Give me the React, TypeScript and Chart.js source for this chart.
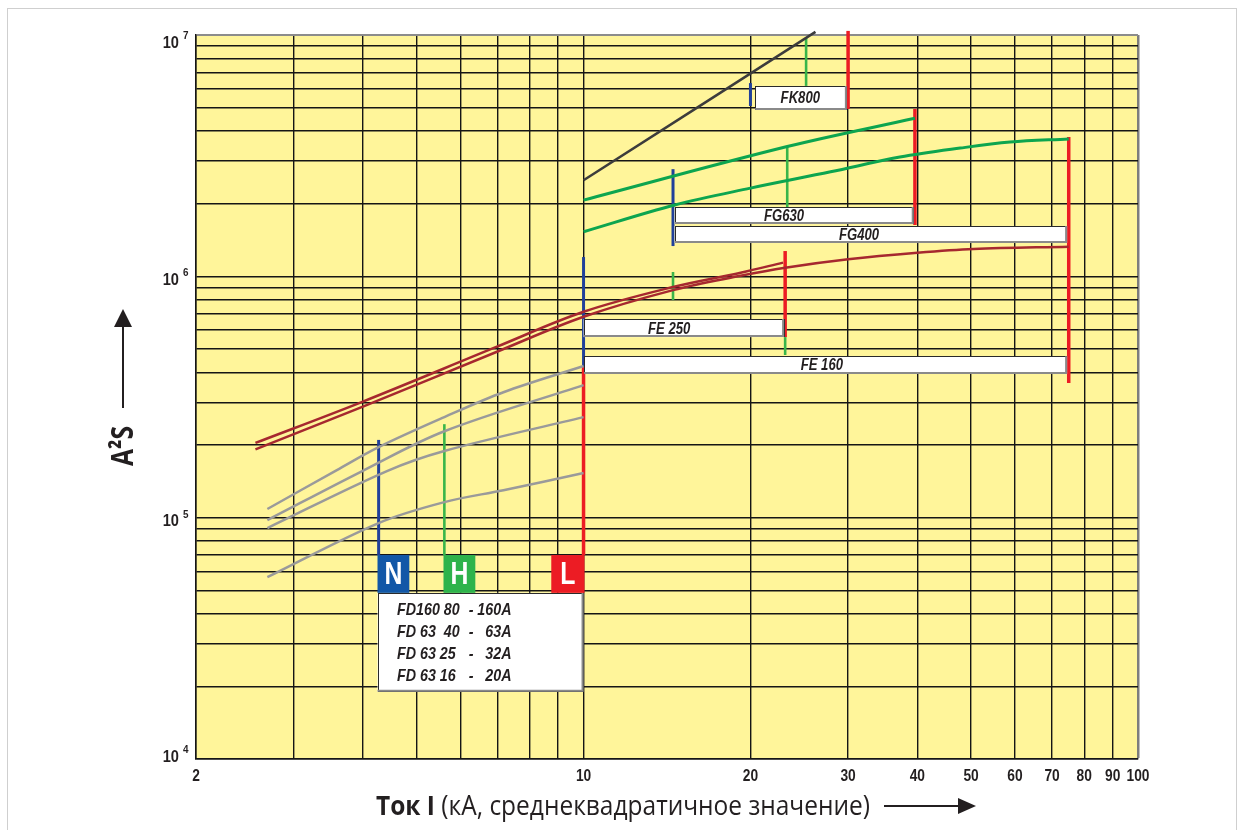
import React, { useEffect, useRef } from "react";
import { Chart, registerables } from "chart.js";

Chart.register(...registerables);

// ---------------- axes ----------------
const X_GRID = [2, 3, 4, 5, 6, 7, 8, 9, 10, 20, 30, 40, 50, 60, 70, 80, 90, 100];
const X_LABELS = [2, 10, 20, 30, 40, 50, 60, 70, 80, 90, 100];
const Y_GRID = [
  1e4, 2e4, 3e4, 4e4, 5e4, 6e4, 7e4, 8e4, 9e4,
  1e5, 2e5, 3e5, 4e5, 5e5, 6e5, 7e5, 8e5, 9e5,
  1e6, 2e6, 3e6, 4e6, 5e6, 6e6, 7e6, 8e6, 9e6,
  1e7,
];
const Y_LABEL_EXP = [4, 5, 6, 7];

const X_TITLE_BOLD = "Ток I";
const X_TITLE_REST = " (кА, среднеквадратичное значение)";
const Y_TITLE = "A²S";

// ---------------- curves [kA, A²s] ----------------
const FK800 = [[10, 2.5e6], [26.2, 1.03e7]];
const FG630 = [[10, 2.07e6], [23.3, 3.45e6], [39.6, 4.52e6]];
const FG400 = [[10, 1.53e6], [14.6, 1.975e6], [20, 2.32e6], [27.9, 2.71e6], [37.2, 3.12e6], [47.8, 3.4e6], [58.8, 3.6e6], [75, 3.71e6]];
const FE250 = [[2.56, 2.04e5], [3.99, 3.02e5], [6.98, 5.11e5], [10, 7.13e5], [14.5, 9.03e5], [19.2, 1.035e6], [22.9, 1.14e6]];
const FE160 = [[2.56, 1.92e5], [3.99, 2.88e5], [6.98, 4.87e5], [10, 6.8e5], [14.5, 8.77e5], [19.2, 1.005e6], [23.1, 1.085e6], [30, 1.176e6], [40, 1.252e6], [50.5, 1.298e6], [75, 1.327e6]];
const FD160 = [[2.69, 1.086e5], [3.59, 1.575e5], [4.27, 1.96e5], [5.61, 2.61e5], [7.17, 3.31e5], [10, 4.25e5]];
const FD63_63 = [[2.69, 9.77e4], [3.99, 1.56e5], [5.61, 2.28e5], [10, 3.54e5]];
const FD63_32 = [[2.69, 9.06e4], [4.42, 1.56e5], [5.61, 1.89e5], [10, 2.61e5]];
const FD63_20 = [[2.69, 5.67e4], [4.27, 9.5e4], [5.61, 1.16e5], [7.17, 1.3e5], [10, 1.53e5]];

// ---------------- vertical markers [kA, low, high] ----------------
const BLUE_MARKS = [[20, 5.08e6, 6.32e6], [14.5, 1.335e6, 2.78e6], [10, 4.21e5, 1.202e6], [4.27, 7.0e4, 2.1e5]];
const GREEN_MARKS = [[25.2, 6.15e6, 9.75e6], [23.3, 1.937e6, 3.45e6], [14.5, 7.97e5, 1.042e6], [23.1, 4.72e5, 5.6e5], [5.61, 7.0e4, 2.44e5]];
const RED_MARKS = [[30, 4.94e6, 1.04e7], [39.6, 1.632e6, 4.94e6], [75, 3.61e5, 3.78e6], [23.1, 5.6e5, 1.273e6], [10, 7.0e4, 4.21e5]];

// ---------------- range boxes ----------------
const BOX_LABELS = ["FK800", "FG630", "FG400", "FE 250", "FE 160"];
const BOX_X = [[20.4, 29.85], [14.6, 39.4], [14.6, 74.5], [10, 23.0], [10.02, 74.5]];
const BOX_Y = [[6.15e6, 4.89e6], [1.937e6, 1.647e6], [1.617e6, 1.374e6], [6.65e5, 5.6e5], [4.67e5, 3.94e5]];
const BOX_LABEL_X = [24.6, 23.0, 31.4, 14.27, 26.9];

const TAGS = ["N", "H", "L"];
const TAG_X = [[4.25, 4.85], [5.59, 6.38], [8.746, 10.04]];
const TAG_Y = [7.0e4, 4.88e4];
const LEGEND_X = [4.25, 10.0];
const LEGEND_Y = [4.88e4, 1.9e4];
const LEGEND_ROWS = [
  ["FD160 80", "-", "160A"],
  ["FD 63  40", "-", "63A"],
  ["FD 63 25", "-", "32A"],
  ["FD 63 16", "-", "20A"],
];

// ---------------- styles ----------------
const YELLOW = "#FFF59A";
const C_RED = "#EC1C24";
const C_BLUE = "#21409A";
const C_GREEN = "#39B54A";
const C_CURVE_GREEN = "#0DA54F";
const C_BROWN = "#A6282F";
const C_GREY = "#9A9A9A";
const C_DARK = "#3C3C3C";
const TAG_COLORS = ["#1257A7", "#2EB34B", "#EC1C24"];
const TXT = "#231F20";
const NARROW = '"Liberation Sans", Arial, sans-serif';

const pts = (a: number[][]) => a.map(([x, y]) => ({ x, y }));

function narrowText(ctx: CanvasRenderingContext2D, s: string, x: number, y: number, align: CanvasTextAlign, sx: number) {
  ctx.save();
  ctx.translate(x, y);
  ctx.scale(sx, 1);
  ctx.textAlign = align;
  ctx.fillText(s, 0, 0);
  ctx.restore();
}

function panel(ctx: CanvasRenderingContext2D, l: number, t: number, r: number, b: number) {
  ctx.save();
  ctx.fillStyle = "#ffffff";
  ctx.fillRect(l, t, r - l, b - t);
  ctx.strokeStyle = "#2a2a2a";
  ctx.lineWidth = 1;
  ctx.strokeRect(Math.round(l) + 0.5, Math.round(t) + 0.5, Math.round(r - l) - 1, Math.round(b - t) - 1);
  ctx.strokeStyle = "#8a8a8a";
  ctx.lineWidth = 2;
  ctx.beginPath();
  ctx.moveTo(l, b - 1);
  ctx.lineTo(r - 1, b - 1);
  ctx.lineTo(r - 1, t);
  ctx.stroke();
  ctx.restore();
}

const drawPlugin = {
  id: "drawPlugin",
  beforeDraw(chart: any) {
    const { ctx, chartArea: a } = chart;
    ctx.save();
    ctx.fillStyle = YELLOW;
    ctx.fillRect(a.left, a.top, a.right - a.left, a.bottom - a.top);
    ctx.restore();
  },
  afterDatasetsDraw(chart: any) {
    const ctx: CanvasRenderingContext2D = chart.ctx;
    const X = (v: number) => chart.scales.x.getPixelForValue(v);
    const Y = (v: number) => chart.scales.y.getPixelForValue(v);

    // range boxes
    BOX_LABELS.forEach((lab, i) => {
      const l = X(BOX_X[i][0]), r = X(BOX_X[i][1]);
      const t = Y(BOX_Y[i][0]), b = Y(BOX_Y[i][1]);
      panel(ctx, l, t, r, b);
      ctx.save();
      ctx.fillStyle = TXT;
      ctx.font = `italic bold 16px ${NARROW}`;
      ctx.textBaseline = "middle";
      narrowText(ctx, lab, X(BOX_LABEL_X[i]), (t + b) / 2 + 1, "center", 0.82);
      ctx.restore();
    });

    // FD legend panel
    const ll = X(LEGEND_X[0]), lr = X(LEGEND_X[1]);
    const lt = Y(LEGEND_Y[0]), lb = Y(LEGEND_Y[1]);
    panel(ctx, ll, lt, lr, lb);
    ctx.save();
    ctx.fillStyle = TXT;
    ctx.font = `italic bold 17px ${NARROW}`;
    ctx.textBaseline = "middle";
    const rowOff = [17.5, 39.5, 61.3, 83];
    LEGEND_ROWS.forEach((row, i) => {
      const y = lt + rowOff[i];
      narrowText(ctx, row[0], ll + 19.5, y, "left", 0.84);
      narrowText(ctx, row[1], ll + 93.5, y, "center", 0.84);
      narrowText(ctx, row[2], ll + 134, y, "right", 0.84);
    });
    ctx.restore();

    // N / H / L tags
    TAGS.forEach((tag, i) => {
      const l = X(TAG_X[i][0]), r = X(TAG_X[i][1]);
      const t = Y(TAG_Y[0]), b = Y(TAG_Y[1]);
      ctx.save();
      ctx.fillStyle = TAG_COLORS[i];
      ctx.fillRect(l, t, r - l, b - t);
      ctx.fillStyle = "#ffffff";
      ctx.font = `bold 31px ${NARROW}`;
      ctx.textBaseline = "middle";
      narrowText(ctx, tag, (l + r) / 2, (t + b) / 2 + 1.5, "center", 0.8);
      ctx.restore();
    });
  },
  afterDraw(chart: any) {
    const ctx: CanvasRenderingContext2D = chart.ctx;
    const xs = chart.scales.x, ys = chart.scales.y;
    ctx.save();
    ctx.fillStyle = TXT;
    ctx.textBaseline = "middle";
    // x tick labels
    ctx.font = `bold 16px ${NARROW}`;
    X_LABELS.forEach((v) => {
      narrowText(ctx, String(v), xs.getPixelForValue(v), 777, "center", 0.86);
    });
    // y tick labels 10^n
    Y_LABEL_EXP.forEach((e) => {
      const py = ys.getPixelForValue(Math.pow(10, e));
      const cy = Math.min(757, Math.max(43, py + 4));
      ctx.font = `bold 17px ${NARROW}`;
      narrowText(ctx, "10", 179, cy, "right", 0.86);
      ctx.font = `bold 11px ${NARROW}`;
      narrowText(ctx, String(e), 183, cy - 7, "left", 0.9);
    });

    // x title
    const fs = 27;
    ctx.font = `bold ${fs}px "Open Sans", sans-serif`;
    const w1 = ctx.measureText(X_TITLE_BOLD).width;
    ctx.font = `${fs}px "Open Sans", sans-serif`;
    const w2 = ctx.measureText(X_TITLE_REST).width;
    const sx = 494 / (w1 + w2);
    ctx.save();
    ctx.translate(376, 815);
    ctx.scale(sx, 1);
    ctx.textBaseline = "alphabetic";
    ctx.textAlign = "left";
    ctx.font = `bold ${fs}px "Open Sans", sans-serif`;
    ctx.fillText(X_TITLE_BOLD, 0, 0);
    ctx.font = `${fs}px "Open Sans", sans-serif`;
    ctx.fillText(X_TITLE_REST, w1, 0);
    ctx.restore();
    // x arrow
    ctx.strokeStyle = TXT;
    ctx.lineWidth = 2;
    ctx.beginPath();
    ctx.moveTo(884, 806);
    ctx.lineTo(962, 806);
    ctx.stroke();
    ctx.beginPath();
    ctx.moveTo(958, 798);
    ctx.lineTo(976, 806);
    ctx.lineTo(958, 814);
    ctx.closePath();
    ctx.fill();

    // y title
    ctx.save();
    ctx.translate(123, 446);
    ctx.rotate(-Math.PI / 2);
    ctx.font = `bold 30px "Open Sans", sans-serif`;
    const wy = ctx.measureText(Y_TITLE).width;
    ctx.scale(40 / wy, 1);
    ctx.textAlign = "center";
    ctx.textBaseline = "middle";
    ctx.fillText(Y_TITLE, 0, 1);
    ctx.restore();
    // y arrow
    ctx.beginPath();
    ctx.moveTo(123, 408);
    ctx.lineTo(123, 322);
    ctx.stroke();
    ctx.beginPath();
    ctx.moveTo(114, 327);
    ctx.lineTo(123, 309);
    ctx.lineTo(132, 327);
    ctx.closePath();
    ctx.fill();
    ctx.restore();
  },
};

export default function App() {
  const ref = useRef<HTMLCanvasElement>(null);

  useEffect(() => {
    const canvas = ref.current;
    if (!canvas) return;

    const curve = (data: number[][], color: string, width: number, extra: any = {}) => ({
      data: pts(data),
      borderColor: color,
      borderWidth: width,
      showLine: true,
      pointRadius: 0,
      fill: false,
      tension: 0.35,
      ...extra,
    });
    const marks = (list: number[][], color: string, width: number) =>
      list.map((m) => ({
        data: [{ x: m[0], y: m[1] }, { x: m[0], y: m[2] }],
        borderColor: color,
        borderWidth: width,
        showLine: true,
        pointRadius: 0,
        fill: false,
        clip: 6,
      }));

    const datasets: any[] = [
      curve(FD160, C_GREY, 2.5),
      curve(FD63_63, C_GREY, 2.5),
      curve(FD63_32, C_GREY, 2.5),
      curve(FD63_20, C_GREY, 2.5),
      curve(FE250, C_BROWN, 2.5),
      curve(FE160, C_BROWN, 2.5),
      curve(FG630, C_CURVE_GREEN, 3),
      curve(FG400, C_CURVE_GREEN, 3),
      curve(FK800, C_DARK, 2.5, { clip: 6 }),
      ...marks(GREEN_MARKS, C_GREEN, 2.6),
      ...marks(BLUE_MARKS, C_BLUE, 3),
      ...marks(RED_MARKS, C_RED, 3.5),
    ];

    const chart = new Chart(canvas, {
      type: "scatter",
      data: { datasets },
      options: {
        responsive: false,
        devicePixelRatio: 1,
        animation: false,
        events: [],
        layout: { padding: { left: 196, right: 104, top: 35, bottom: 71 } },
        plugins: { legend: { display: false }, tooltip: { enabled: false } },
        scales: {
          x: {
            type: "logarithmic",
            min: 2,
            max: 100,
            afterBuildTicks: (s: any) => {
              s.ticks = X_GRID.map((v) => ({ value: v }));
            },
            afterFit: (s: any) => {
              s.height = 0;
            },
            ticks: { display: false },
            grid: {
              drawTicks: false,
              color: (c: any) => (c.tick && c.tick.value === 100 ? "#7d7d7d" : "#151515"),
              lineWidth: (c: any) => (c.tick && c.tick.value === 100 ? 2.5 : 1.4),
            },
            border: { display: true, color: "#151515", width: 1.5 },
          },
          y: {
            type: "logarithmic",
            min: 1e4,
            max: 1e7,
            afterBuildTicks: (s: any) => {
              s.ticks = Y_GRID.map((v) => ({ value: v }));
            },
            afterFit: (s: any) => {
              s.width = 0;
            },
            ticks: { display: false },
            grid: {
              drawTicks: false,
              color: (c: any) => (c.tick && c.tick.value === 1e7 ? "#8c8c8c" : "#151515"),
              lineWidth: (c: any) => (c.tick && c.tick.value === 1e7 ? 2 : 1.4),
            },
            border: { display: true, color: "#151515", width: 1.5 },
          },
        },
      },
      plugins: [drawPlugin],
    } as any);

    return () => chart.destroy();
  }, []);

  return (
    <div style={{ position: "absolute", left: 0, top: 0, width: 1242, height: 830, overflow: "hidden", background: "#fff" }}>
      <div
        style={{
          position: "absolute",
          left: 7,
          top: 8,
          width: 1228,
          height: 900,
          borderLeft: "1px solid #cfcfcf",
          borderTop: "1px solid #cfcfcf",
          borderRight: "1px solid #cfcfcf",
        }}
      />
      <canvas
        ref={ref}
        width={1242}
        height={830}
        style={{ position: "absolute", left: 0, top: 0, width: 1242, height: 830 }}
      />
    </div>
  );
}
